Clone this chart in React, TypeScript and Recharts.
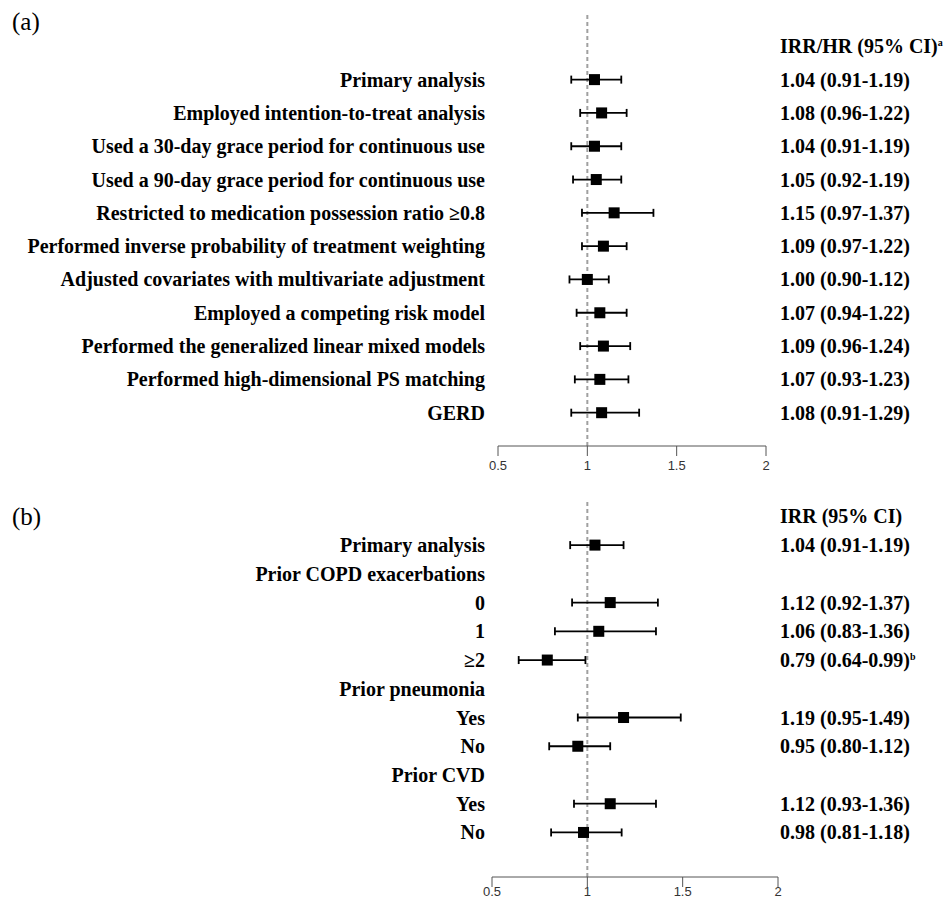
import { ComposedChart, Scatter, ErrorBar, XAxis, YAxis, ReferenceLine } from 'recharts';

// panel (a): sensitivity analyses
const labelsA = [
  '',
  'Primary analysis',
  'Employed intention-to-treat analysis',
  'Used a 30-day grace period for continuous use',
  'Used a 90-day grace period for continuous use',
  'Restricted to medication possession ratio \u22650.8',
  'Performed inverse probability of treatment weighting',
  'Adjusted covariates with multivariate adjustment',
  'Employed a competing risk model',
  'Performed the generalized linear mixed models',
  'Performed high-dimensional PS matching',
  'GERD',
];
const estA = [null, 1.04, 1.08, 1.04, 1.05, 1.15, 1.09, 1.0, 1.07, 1.09, 1.07, 1.08];
const loA = [null, 0.91, 0.96, 0.91, 0.92, 0.97, 0.97, 0.9, 0.94, 0.96, 0.93, 0.91];
const hiA = [null, 1.19, 1.22, 1.19, 1.19, 1.37, 1.22, 1.12, 1.22, 1.24, 1.23, 1.29];
const ciA = [
  'IRR/HR (95% CI)',
  '1.04 (0.91-1.19)',
  '1.08 (0.96-1.22)',
  '1.04 (0.91-1.19)',
  '1.05 (0.92-1.19)',
  '1.15 (0.97-1.37)',
  '1.09 (0.97-1.22)',
  '1.00 (0.90-1.12)',
  '1.07 (0.94-1.22)',
  '1.09 (0.96-1.24)',
  '1.07 (0.93-1.23)',
  '1.08 (0.91-1.29)',
];
const supA = ['a', '', '', '', '', '', '', '', '', '', '', ''];

// panel (b): subgroup analyses
const labelsB = [
  '',
  'Primary analysis',
  'Prior COPD exacerbations',
  '0',
  '1',
  '\u22652',
  'Prior pneumonia',
  'Yes',
  'No',
  'Prior CVD',
  'Yes',
  'No',
];
const estB = [null, 1.04, null, 1.12, 1.06, 0.79, null, 1.19, 0.95, null, 1.12, 0.98];
const loB = [null, 0.91, null, 0.92, 0.83, 0.64, null, 0.95, 0.8, null, 0.93, 0.81];
const hiB = [null, 1.19, null, 1.37, 1.36, 0.99, null, 1.49, 1.12, null, 1.36, 1.18];
const ciB = [
  'IRR (95% CI)',
  '1.04 (0.91-1.19)',
  '',
  '1.12 (0.92-1.37)',
  '1.06 (0.83-1.36)',
  '0.79 (0.64-0.99)',
  '',
  '1.19 (0.95-1.49)',
  '0.95 (0.80-1.12)',
  '',
  '1.12 (0.93-1.36)',
  '0.98 (0.81-1.18)',
];
const supB = ['', '', '', '', '', 'b', '', '', '', '', '', ''];

const xTicks = [0.5, 1, 1.5, 2];
const serif = '"Liberation Serif", "Times New Roman", serif';
const sans = '"Liberation Sans", Arial, sans-serif';

const toRows = (est: (number | null)[], lo: (number | null)[], hi: (number | null)[]) =>
  est
    .map((e, i) => (e == null ? null : { row: i, est: e, err: [e - (lo[i] as number), (hi[i] as number) - e] }))
    .filter((d) => d != null);

const Square = (p: any) => <rect x={p.cx - 5.5} y={p.cy - 5.5} width={11} height={11} fill="#000" />;

const makeTick = (texts: string[], sups: string[], anchor: 'start' | 'end') => (p: any) => {
  const i = p.payload.value;
  return (
    <text x={p.x} y={p.y} dy="0.35em" textAnchor={anchor} fontFamily={serif} fontWeight="bold" fontSize={20} fill="#000">
      {texts[i]}
      {sups[i] ? (
        <tspan dy="-0.7em" fontSize={10}>
          {sups[i]}
        </tspan>
      ) : null}
    </text>
  );
};

interface PanelProps {
  height: number;
  plotLeft: number;
  plotRight: number;
  top: number;
  xAxisHeight: number;
  xTickMargin: number;
  yDomain: number[];
  labels: string[];
  ci: string[];
  sups: string[];
  data: any[];
  rightGap: number;
}

const Panel = (props: PanelProps) => {
  const rows = props.labels.map((_, i) => i);
  return (
    <ComposedChart
      width={948}
      height={props.height}
      data={props.data}
      margin={{ top: props.top, right: 0, bottom: 0, left: 0 }}
    >
      <XAxis
        type="number"
        dataKey="est"
        domain={[0.5, 2]}
        ticks={xTicks}
        allowDataOverflow
        height={props.xAxisHeight}
        tickSize={10}
        tickMargin={props.xTickMargin}
        stroke="#555"
        tick={{ fill: '#333', fontSize: 13, fontFamily: sans }}
      />
      <YAxis
        yAxisId="left"
        type="number"
        dataKey="row"
        domain={props.yDomain}
        reversed
        allowDataOverflow
        ticks={rows}
        interval={0}
        width={props.plotLeft}
        axisLine={false}
        tickLine={false}
        tickSize={0}
        tickMargin={props.plotLeft - 485}
        tick={makeTick(props.labels, [], 'end')}
      />
      <YAxis
        yAxisId="right"
        orientation="right"
        type="number"
        domain={props.yDomain}
        reversed
        allowDataOverflow
        ticks={rows}
        interval={0}
        width={948 - props.plotRight}
        axisLine={false}
        tickLine={false}
        tickSize={0}
        tickMargin={props.rightGap}
        tick={makeTick(props.ci, props.sups, 'start')}
      />
      <ReferenceLine yAxisId="left" x={1} stroke="#a0a0a0" strokeWidth={2} strokeDasharray="4 3" />
      <Scatter yAxisId="left" dataKey="est" shape={Square} isAnimationActive={false}>
        <ErrorBar dataKey="err" direction="x" width={4} stroke="#000" strokeWidth={1.8} />
      </Scatter>
    </ComposedChart>
  );
};

export default function App() {
  return (
    <div style={{ position: 'absolute', left: 0, top: 0, width: 948, height: 902, background: '#fff', overflow: 'hidden' }}>
      <Panel
        height={490}
        plotLeft={498}
        plotRight={766}
        top={13}
        xAxisHeight={44}
        xTickMargin={5}
        yDomain={[-1, 12]}
        labels={labelsA}
        ci={ciA}
        sups={supA}
        data={toRows(estA, loA, hiA)}
        rightGap={14}
      />
      <Panel
        height={412}
        plotLeft={492}
        plotRight={778}
        top={12}
        xAxisHeight={25}
        xTickMargin={0}
        yDomain={[-0.5, 12.55]}
        labels={labelsB}
        ci={ciB}
        sups={supB}
        data={toRows(estB, loB, hiB)}
        rightGap={2}
      />
      <div style={{ position: 'absolute', left: 12, top: 8, fontFamily: serif, fontSize: 25 }}>(a)</div>
      <div style={{ position: 'absolute', left: 12, top: 503, fontFamily: serif, fontSize: 25 }}>(b)</div>
    </div>
  );
}
